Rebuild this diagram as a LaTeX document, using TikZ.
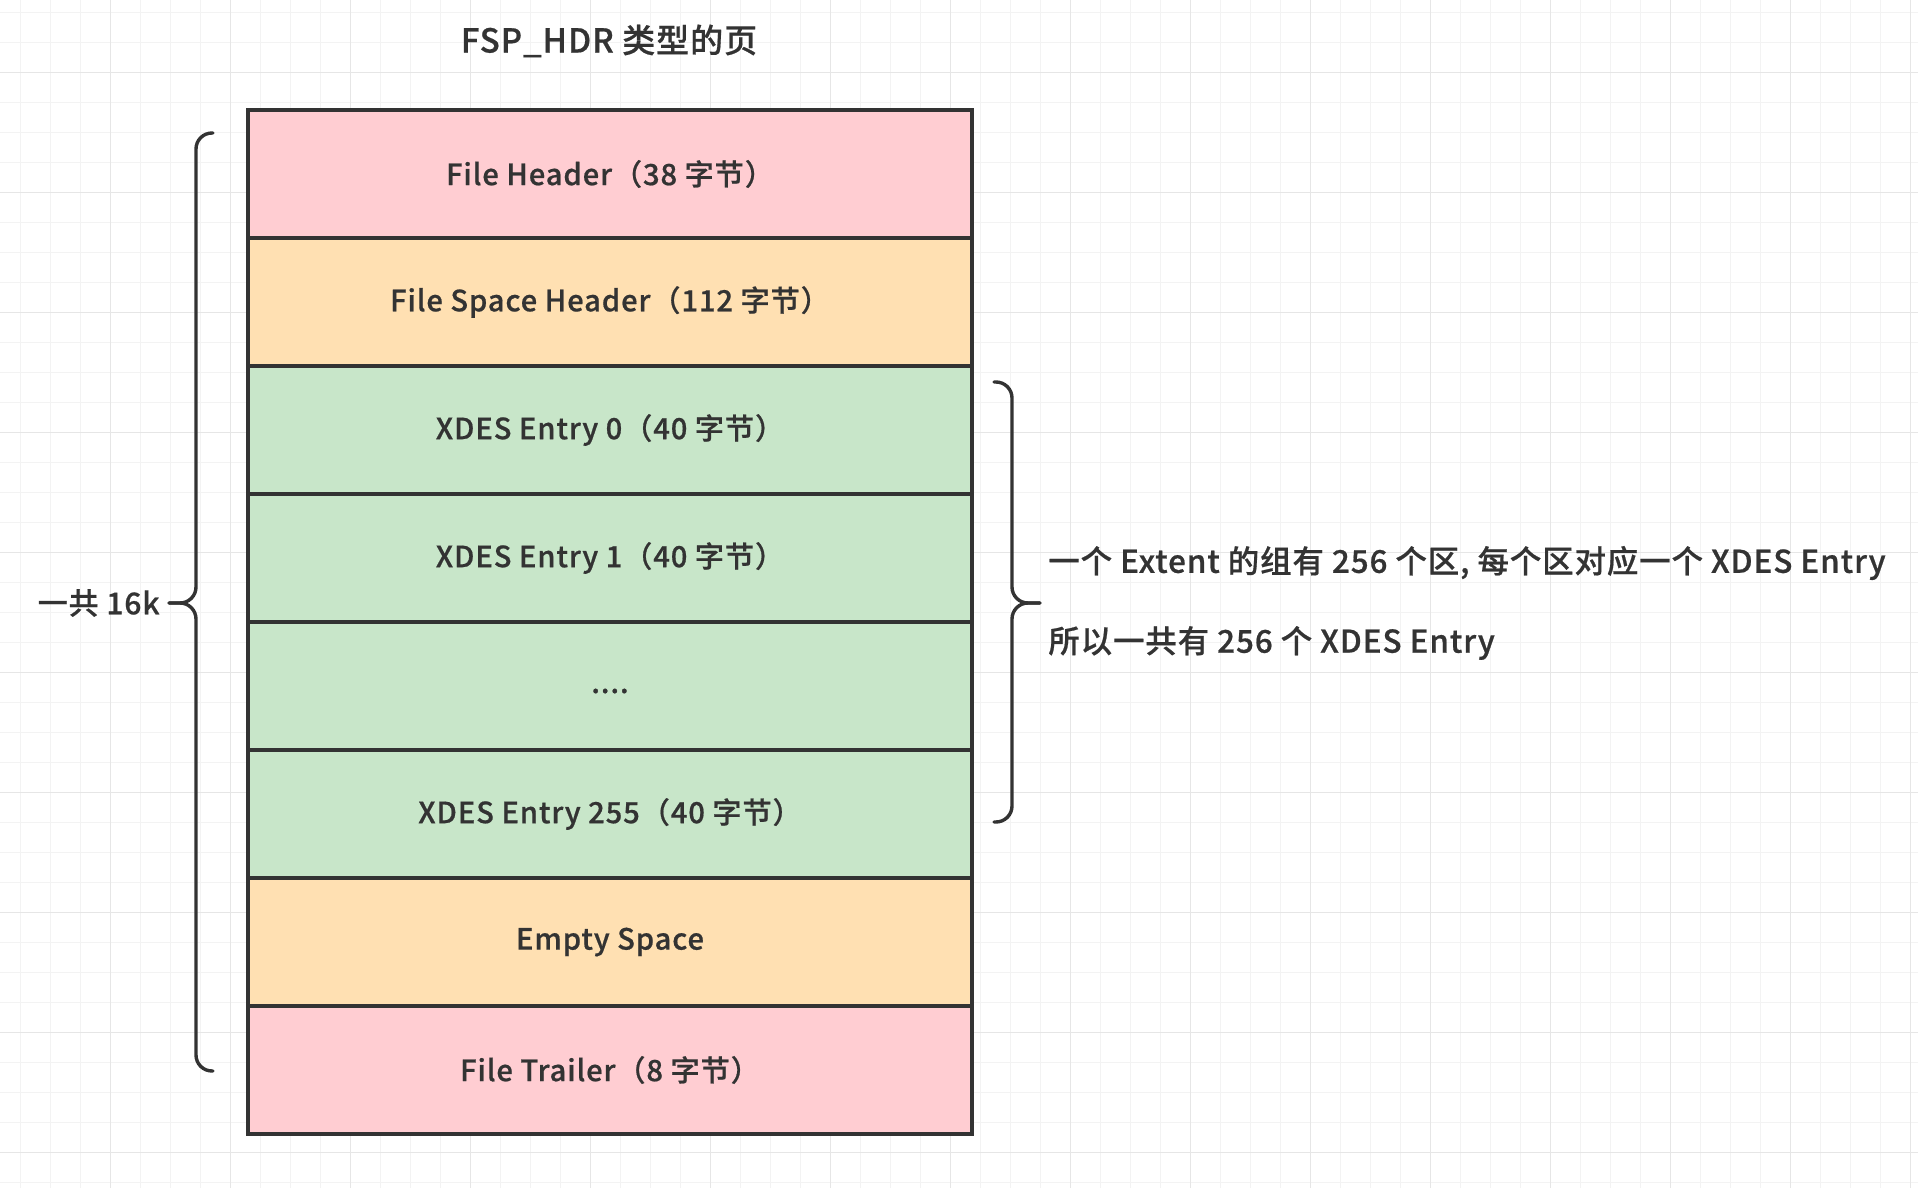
\documentclass[tikz,border=0pt]{standalone}
\usepackage{fontspec}
\IfFontExistsTF{Noto Sans CJK SC Medium}
	{\setmainfont{Noto Sans CJK SC Medium}[FakeBold=0.6, LetterSpace=3]}
	{\setmainfont{Noto Sans CJK SC}[FakeBold=1.6, LetterSpace=3]}
\usetikzlibrary{positioning}

\definecolor{hdrpink}{HTML}{FFCDD2}
\definecolor{spcorange}{HTML}{FFE0B2}
\definecolor{xdesgreen}{HTML}{C8E6C9}
\definecolor{ink}{HTML}{333333}
\definecolor{gridminor}{HTML}{F3F3F3}
\definecolor{gridmajor}{HTML}{E6E6E6}

\tikzset{
	slot/.style={draw=ink, line width=2pt, minimum width=362pt, minimum height=64pt,
		inner sep=0pt, outer sep=0pt, text=ink, font=\fontsize{14.6}{17}\selectfont},
	label/.style={inner sep=0pt, text=ink, font=\fontsize{15}{18}\selectfont},
	brace/.style={draw=ink, line width=1.7pt, rounded corners=8pt, line cap=round},
}

\begin{document}
\begin{tikzpicture}[x=0.5pt, y=-0.5pt]
	\useasboundingbox (0,0) rectangle (1918,1188);
	\fill [white] (0,0) rectangle (1918,1188);
	\foreach \gx in {0,...,63}
		\draw [gridminor, line width=0.65pt] ({20.7+30*\gx},0) -- ({20.7+30*\gx},1188);
	\foreach \gy in {0,...,39}
		\draw [gridminor, line width=0.65pt] (0,{12.7+30*\gy}) -- (1918,{12.7+30*\gy});
	\foreach \gx in {0,...,15}
		\draw [gridmajor, line width=0.65pt] ({110.7+120*\gx},0) -- ({110.7+120*\gx},1188);
	\foreach \gy in {0,...,9}
		\draw [gridmajor, line width=0.65pt] (0,{72.7+120*\gy}) -- (1918,{72.7+120*\gy});

	\node [label, font=\fontsize{16.5}{19}\selectfont] (title) at (609,41) {FSP\_HDR 类型的页};

	\node [slot, fill=hdrpink] (fh) at (610,174) {File Header（38 字节）};
	\node [slot, fill=spcorange, below=0pt of fh] (fsh) {File Space Header（112 字节）};
	\node [slot, fill=xdesgreen, below=0pt of fsh] (x0) {XDES Entry 0（40 字节）};
	\node [slot, fill=xdesgreen, below=0pt of x0] (x1) {XDES Entry 1（40 字节）};
	\node [slot, fill=xdesgreen, below=0pt of x1] (xdots) {\smash{\raisebox{-3.5pt}{....}}};
	\node [slot, fill=xdesgreen, below=0pt of xdots] (x255) {XDES Entry 255（40 字节）};
	\node [slot, fill=spcorange, below=0pt of x255] (empty) {Empty Space};
	\node [slot, fill=hdrpink, below=0pt of empty] (ft) {File Trailer（8 字节）};

	\draw [brace] (213,133) -- (196,133) -- (196,603) -- (169,603);
	\draw [brace] (169,603) -- (196,603) -- (196,1071) -- (213,1071);
	\node [label, anchor=east] (total) at (160,603) {一共 16k};

	\draw [brace] (994,382) -- (1012,382) -- (1012,603) -- (1040,603);
	\draw [brace] (1040,603) -- (1012,603) -- (1012,822) -- (994,822);
	\node [label, anchor=west, font=\fontsize{15.7}{18}\selectfont] (note1) at (1048,563) {一个 Extent 的组有 256 个区, 每个区对应一个 XDES Entry};
	\node [label, anchor=west, font=\fontsize{15.7}{18}\selectfont] (note2) at (1048,643) {所以一共有 256 个 XDES Entry};
\end{tikzpicture}
\end{document}
